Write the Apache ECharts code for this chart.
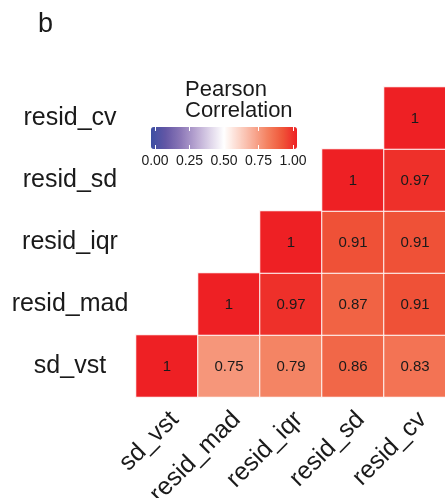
<!DOCTYPE html>
<html>
<head>
<meta charset="utf-8">
<script src="https://cdn.jsdelivr.net/npm/echarts@6/dist/echarts.min.js"></script>
<style>
  html, body { margin: 0; padding: 0; background: #fff; }
  #chart { width: 445px; height: 498px; }
</style>
</head>
<body>
<div id="chart"></div>
<script>
// Variables, bottom row first on the y axis
var variables = ['sd_vst', 'resid_mad', 'resid_iqr', 'resid_sd', 'resid_cv'];

// Correlation rows (one per y variable); null where the triangle is empty
var rowSdVst    = [1, 0.75, 0.79, 0.86, 0.83];
var rowResidMad = [null, 1, 0.97, 0.87, 0.91];
var rowResidIqr = [null, null, 1, 0.91, 0.91];
var rowResidSd  = [null, null, null, 1, 0.97];
var rowResidCv  = [null, null, null, null, 1];

var legendTicks = [0, 0.25, 0.5, 0.75, 1];

var rows = [rowSdVst, rowResidMad, rowResidIqr, rowResidSd, rowResidCv];
var cells = [];
rows.forEach(function (row, yi) {
  row.forEach(function (v, xi) {
    if (v !== null) cells.push([xi, yi, v]);
  });
});

var FONT = '"Liberation Sans", Arial, Helvetica, sans-serif';
var TXT = '#1a1a1a';

var chart = echarts.init(document.getElementById('chart'), null, { renderer: 'canvas' });
chart.setOption({
  animation: false,
  backgroundColor: '#fff',
  textStyle: { fontFamily: FONT },
  title: [
    { text: 'b', left: 33, top: 6,
      textStyle: { fontFamily: FONT, fontSize: 27, fontWeight: 'normal', color: TXT } },
    { text: 'Pearson\nCorrelation', left: 180, top: 74,
      textStyle: { fontFamily: FONT, fontSize: 22, lineHeight: 21, fontWeight: 'normal', color: TXT } }
  ],
  grid: [
    { left: 136, top: 87, width: 310, height: 310, outerBoundsMode: 'none', containLabel: false },
    { left: 155, top: 127, width: 138, height: 22, outerBoundsMode: 'none', containLabel: false }
  ],
  xAxis: [
    {
      type: 'category', data: variables, gridIndex: 0, z: 10,
      axisLine: { show: false }, axisTick: { show: false }, splitLine: { show: false },
      axisLabel: { rotate: 45, fontSize: 25, color: TXT, margin: 11, fontFamily: FONT, interval: 0,
        verticalAlign: 'top', lineHeight: 22 }
    },
    {
      type: 'value', gridIndex: 1, min: 0, max: 1, interval: 0.25, position: 'bottom', z: 10,
      axisLine: { show: false }, splitLine: { show: false },
      axisTick: { show: true, inside: true, length: 4, lineStyle: { color: '#fff', width: 1 } },
      axisLabel: { fontSize: 14, color: TXT, margin: 5, fontFamily: FONT,
        customValues: legendTicks,
        formatter: function (v) { return v.toFixed(2); } }
    },
    {
      type: 'value', gridIndex: 1, min: 0, max: 1, interval: 0.25, position: 'top', z: 10,
      axisLine: { show: false }, splitLine: { show: false },
      axisTick: { show: true, inside: true, length: 4, lineStyle: { color: '#fff', width: 1 } },
      axisLabel: { show: false }
    }
  ],
  yAxis: [
    {
      type: 'category', data: variables, gridIndex: 0,
      axisLine: { show: false }, axisTick: { show: false }, splitLine: { show: false },
      axisLabel: { fontSize: 25, color: TXT, margin: 66, align: 'center', fontFamily: FONT, interval: 0 }
    },
    { type: 'value', gridIndex: 1, show: false, min: 0, max: 1 }
  ],
  visualMap: {
    type: 'continuous', min: 0, max: 1, calculable: false, seriesIndex: 0,
    orient: 'horizontal', left: 151, top: 127, itemWidth: 22, itemHeight: 146,
    padding: 0, showLabel: false, hoverLink: false, z: 1,
    inRange: {
      color: ['#3c4ea3', '#6357a5', '#8a76b6', '#b5a2cf', '#dcd2e8', '#ffffff',
              '#fcd6ca', '#f8ab95', '#f4805f', '#ef5639', '#ee2024']
    }
  },
  series: [{
    type: 'heatmap', xAxisIndex: 0, yAxisIndex: 0,
    data: cells,
    itemStyle: { borderColor: '#fff', borderWidth: 1 },
    label: {
      show: true, fontSize: 15, color: TXT, fontFamily: FONT, offset: [0, 1],
      formatter: function (p) { var v = p.value[2]; return v === 1 ? '1' : v.toFixed(2); }
    },
    emphasis: { disabled: true }
  }]
});
</script>
</body>
</html>
